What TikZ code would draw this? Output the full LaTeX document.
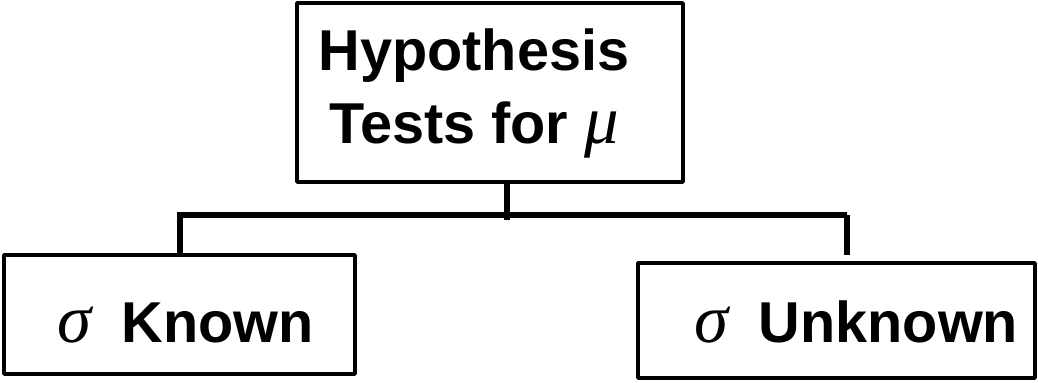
\documentclass[tikz,border=0pt]{standalone}
\usepackage{fontspec}
\setmainfont{Liberation Sans}
\newfontfamily\grk{Liberation Serif}
\usetikzlibrary{calc}
\tikzset{>=latex}
\tikzset{box/.style={draw,line width=2.6pt,line join=round,inner sep=0pt,font=\bfseries\fontsize{41}{52}\selectfont}}
\tikzset{link/.style={line width=3.6pt}}
\newcommand{\gk}[1]{{\grk\mdseries\itshape\fontsize{49}{52}\selectfont #1}}

\begin{document}
\begin{tikzpicture}
		\useasboundingbox (0,0) rectangle (25.95,9.55);
		\node[box,minimum width=9.65cm,minimum height=4.475cm] (T) at (12.25,7.2375) {\begin{tabular}{@{}c@{}}Hypothesis\\Tests for \gk{μ}\end{tabular}\hspace*{0.8cm}};
		\node[box,minimum width=8.775cm,minimum height=2.975cm,text height=1.42cm,text depth=0pt] (K) at (4.4875,1.6875) {\hspace*{0.3cm}\gk{σ}\hspace{0.35cm} Known};
		\node[box,minimum width=9.925cm,minimum height=2.875cm,text height=1.1cm,text depth=0pt] (U) at (20.9125,1.5375) {\hspace*{1.0cm}\gk{σ}\hspace{0.35cm} Unknown};
		\coordinate (J) at (12.675,4.175);
		\coordinate (L) at (4.5,4.175);
		\coordinate (R) at (21.175,4.175);
		\draw[link] (T.south -| J) -- ($(J)+(0,-0.13)$);
		\draw[link] ($(L |- K.north)+(0,-0.1)$) -- (L) -- (R);
		\draw[link] (R) -- ($(R |- U.north)+(0,0.15)$);
	\end{tikzpicture}
\end{document}
